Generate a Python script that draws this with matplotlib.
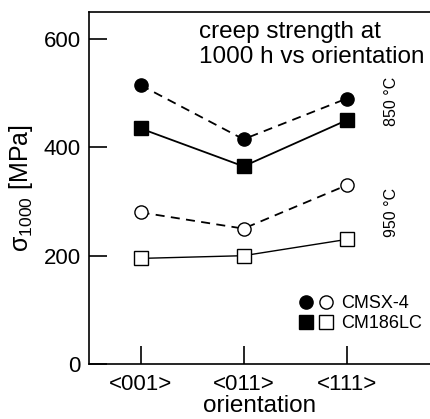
import numpy as np
import matplotlib.pyplot as plt
from matplotlib.lines import Line2D
from matplotlib.legend_handler import HandlerTuple

plt.rcParams['font.family'] = ['Liberation Sans', 'DejaVu Sans']

orient = ['<001>', '<011>', '<111>']
cmsx4_850 = [515, 415, 490]
cm186_850 = [435, 365, 450]
cmsx4_950 = [280, 250, 330]
cm186_950 = [195, 200, 230]

x = np.arange(len(orient))

fig = plt.figure(figsize=(4.31, 4.19), dpi=100)
ax = fig.add_axes([89/431, 55/419, 342/431, 352/419])

ms = 9.5
ax.plot(x, cmsx4_850, 'k--', marker='o', ms=ms, lw=1.3, dashes=(5, 3.5))
ax.plot(x, cm186_850, 'k-', marker='s', ms=ms, lw=1.3)
ax.plot(x, cmsx4_950, 'k--', marker='o', ms=ms, mfc='white', mew=1.0, lw=1.3, dashes=(5, 3.5))
ax.plot(x, cm186_950, 'k-', marker='s', ms=ms, mfc='white', mew=1.0, lw=1.0)

ax.set_xlim(-0.5, 2.82)
ax.set_ylim(0, 650)
ax.set_xticks(x)
ax.set_xticklabels(orient)
ax.set_yticks([0, 200, 400, 600])
ax.tick_params(direction='in', length=13, width=1.2, labelsize=16, pad=6)
ax.tick_params(axis='x', pad=7)
for s in ['left', 'bottom', 'top']:
    ax.spines[s].set_linewidth(1.2)
ax.spines['right'].set_visible(False)

ax.set_xlabel('orientation', fontsize=17.5, labelpad=0)
ax.set_ylabel(r'$\mathregular{σ_{1000}}$ [MPa]', fontsize=18, labelpad=6)

ax.text(0.322, 0.975, 'creep strength at\n1000 h vs orientation', transform=ax.transAxes,
        ha='left', va='top', fontsize=17.5, linespacing=1.2)
ax.text(2.44, 485, '850 °C', rotation=90, ha='center', va='center', fontsize=11.5)
ax.text(2.44, 280, '950 °C', rotation=90, ha='center', va='center', fontsize=11.5)

h1 = Line2D([], [], ls='none', marker='o', color='k', ms=ms)
h2 = Line2D([], [], ls='none', marker='o', color='k', mfc='white', ms=ms)
h3 = Line2D([], [], ls='none', marker='s', color='k', ms=ms)
h4 = Line2D([], [], ls='none', marker='s', color='k', mfc='white', ms=ms)
ax.legend([(h1, h2), (h3, h4)], ['CMSX-4', 'CM186LC'],
          handler_map={tuple: HandlerTuple(ndivide=None, pad=0.3)},
          loc='lower right', bbox_to_anchor=(0.995, 0.07), frameon=False,
          fontsize=13, handlelength=2.0, handletextpad=0.4, labelspacing=0.15,
          borderaxespad=0)

plt.savefig('out.png')
